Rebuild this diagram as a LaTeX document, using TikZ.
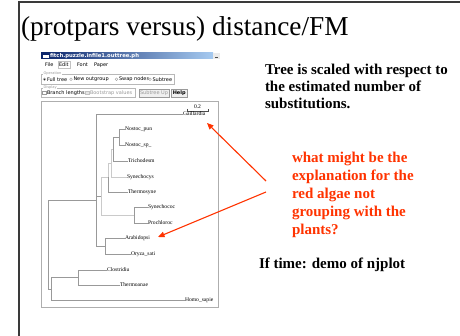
\documentclass[tikz,border=0pt]{standalone}
\usepackage{fontspec}
\setmainfont{Liberation Serif}
\newfontfamily\uifont{DejaVu Sans}
\usetikzlibrary{arrows.meta}

\definecolor{framegray}{HTML}{3A3A3A}
\definecolor{calloutred}{HTML}{FF3300}
\definecolor{bardark}{HTML}{0A246A}
\definecolor{barlight}{HTML}{A6CAF0}
\definecolor{uigray}{HTML}{9A9A9A}
\definecolor{branch}{HTML}{999999}
\definecolor{branchlight}{HTML}{CACACA}

\tikzset{
  every node/.style={inner sep=0pt, outer sep=0pt},
  uitext/.style={anchor=west, font=\uifont\fontsize{5}{6}\selectfont},
  uidim/.style={uitext, text=uigray},
  groupbox/.style={draw=uigray!70, line width=0.4pt},
  grouplabel/.style={anchor=west, fill=white, inner xsep=0.5pt,
    font=\uifont\fontsize{3.6}{4}\selectfont, text=uigray},
  radio/.style={draw=uigray, line width=0.3pt, fill=white},
  uibutton/.style={draw=uigray, line width=0.4pt, fill=black!6},
  leaf/.style={anchor=west, font=\fontsize{5.6}{6}\selectfont},
  branchline/.style={draw=branch, line width=0.55pt},
  branchpale/.style={draw=branchlight, line width=0.6pt},
  callout/.style={draw=calloutred, line width=1.1pt,
    -{Triangle[length=6.5pt, width=5.5pt]}},
  bodytext/.style={anchor=base west, font=\bfseries\fontsize{15}{17}\selectfont}
}

\begin{document}
\begin{tikzpicture}[x=1pt, y=-1pt]
\useasboundingbox (0,0) rectangle (460,336);
\fill[white] (0,0) rectangle (460,336);

% slide frame
\draw[framegray, line width=1.3pt] (19,336) -- (19,2) -- (460,2);

% slide title
\node[anchor=base west, font=\fontsize{27.3}{32}\selectfont] (title) at (21,36)
  {(protpars versus) distance/FM};

% ---------- program window ----------
\shade[left color=bardark, right color=barlight] (41,53) rectangle (213,59);
\fill[white] (42.5,54.3) rectangle (48.5,57.8);
\fill[bardark] (42.5,54.3) rectangle (48.5,55.2);
\node[anchor=west, text=white, font=\uifont\bfseries\fontsize{5.3}{6}\selectfont]
  (wintitle) at (50,56) {fitch.puzzle.infile1.outtree.ph};
\fill[black!8] (213,53) rectangle (220,59);
\draw[black!70, line width=0.6pt] (215,57.6) -- (218,57.6);

% menu bar
\node[uitext] (mfile)  at (45,65) {File};
\node[uitext] (medit)  at (59,65) {Edit};
\node[uitext] (mfont)  at (77,65) {Font};
\node[uitext] (mpaper) at (94,65) {Paper};
\draw[uigray!60, line width=0.3pt] ([xshift=-1.2pt,yshift=1.5pt]medit.north west)
  rectangle ([xshift=1.2pt,yshift=-1.5pt]medit.south east);

% operation group
\draw[groupbox] (41,74) rectangle (174,84);
\node[grouplabel] (lop) at (43,74) {Operation};
\draw[radio] (44.5,79.3) circle (1.4pt);
\fill[black] (44.5,79.3) circle (0.7pt);
\node[uitext] (ofull) at (47,79.3) {Full tree};
\draw[radio] (71,79.3) circle (1.4pt);
\node[uitext] (onew) at (73.5,79.3) {New outgroup};
\draw[radio] (116.5,79.3) circle (1.4pt);
\node[uitext] (oswap) at (119,79.3) {Swap nodes};
\draw[radio] (150,79.3) circle (1.4pt);
\node[uitext] (osub) at (152.5,79.3) {Subtree};

% display group
\draw[groupbox] (41,88) rectangle (135,97);
\node[grouplabel] (ldisp) at (43,88) {Display};
\draw[radio] (42.5,90.8) rectangle (46.2,94.5);
\node[uitext] (dbranch) at (47,92.7) {Branch lengths};
\draw[radio, draw=uigray!60, fill=black!10] (85.5,90.8) rectangle (89.2,94.5);
\node[uidim] (dboot) at (90,92.7) {Bootstrap values};

% buttons
\draw[uibutton] (139,88.8) rectangle (169,97);
\node[uidim, anchor=center] (bsub) at (154,92.9) {Subtree Up};
\draw[uibutton] (171,88.8) rectangle (187.5,97);
\node[uitext, anchor=center, font=\uifont\bfseries\fontsize{5}{6}\selectfont] (bhelp)
  at (179.2,92.9) {Help};

% tree canvas
\draw[draw=uigray!80, line width=0.7pt] (41,101) rectangle (218,307);

% scale bar
\node[anchor=base, font=\fontsize{5.6}{6}\selectfont] (scale) at (197.5,108.5) {0.2};
\draw[black!70, line width=0.4pt] (187,109) -- (187,111) -- (208,111) -- (208,109);

% ---------- tree ----------
\node[leaf] (gail)  at (183,114) {Gaillardia};
\node[leaf] (npun)  at (125,129) {Nostoc\_pun};
\node[leaf] (nsp)   at (125,145) {Nostoc\_sp\_};
\node[leaf] (trich) at (128,161) {Trichodesm};
\node[leaf] (sycy)  at (127,177) {Synechocys};
\node[leaf] (thsy)  at (128,192) {Thermosyne};
\node[leaf] (syco)  at (148,207) {Synechococ};
\node[leaf] (proc)  at (148,223) {Prochloroc};
\node[leaf] (arab)  at (125,238) {Arabidopsi};
\node[leaf] (oryz)  at (131,254) {Oryza\_sati};
\node[leaf] (clos)  at (107,270) {Clostridiu};
\node[leaf] (than)  at (120,285) {Thermoanae};
\node[leaf] (homo)  at (185,300) {Homo\_sapie};

\coordinate (nostoc) at (119,137);
\coordinate (ntri)   at (113,149);
\coordinate (nsyn)   at (111,163);
\coordinate (ncyan)  at (108,177.5);
\coordinate (nproc)  at (134,215);
\coordinate (nblue)  at (101,196);
\coordinate (nplant) at (105,246);
\coordinate (ningr)  at (96,200);
\coordinate (nclos)  at (78,277.5);
\coordinate (nout)   at (51,289);
\coordinate (root)   at (48,244);

% paler branches first, darker ones on top
\path[branchpale]
  (nsyn) |- (ntri)         (nsyn) |- (sycy.west)
  (nblue) |- (ncyan)       (nblue) |- (nproc)
  (ncyan) |- (nsyn);

\path[branchline]
  (nostoc) |- (npun.west)  (nostoc) |- (nsp.west)
  (ntri) |- (nostoc)       (ntri) |- (trich.west)
  (ncyan) |- (thsy.west)
  (nproc) |- (syco.west)   (nproc) |- (proc.west)
  (nplant) |- (arab.west)  (nplant) |- (oryz.west)
  (ningr) |- (gail.west)   (ningr) |- (nblue)   (ningr) |- (nplant)
  (nclos) |- (clos.west)   (nclos) |- (than.west)
  (nout) |- (nclos)        (nout) |- (homo.west)
  (root) |- (ningr)        (root) |- (nout);

% ---------- notes ----------
\node[bodytext] (note1) at (265,75) {Tree is scaled with respect to};
\node[bodytext] (note2) at (265,92) {the estimated number of};
\node[bodytext] (note3) at (265,109) {substitutions.};

\node[anchor=north west, align=left, text=calloutred,
  font=\bfseries\fontsize{15}{18}\selectfont] (question) at (292,152)
  {what might be the\\explanation for the\\red algae not\\grouping with the\\plants?};

\node[bodytext] (demo) at (259,269) {If time: demo of njplot};

% callout arrows
\coordinate (qa) at (266,181);
\coordinate (qb) at (266,192);
\coordinate (ta) at (207,123);
\coordinate (tb) at (158,237);
\draw[callout] (qa) -- (ta);
\draw[callout] (qb) -- (tb);
\end{tikzpicture}
\end{document}
